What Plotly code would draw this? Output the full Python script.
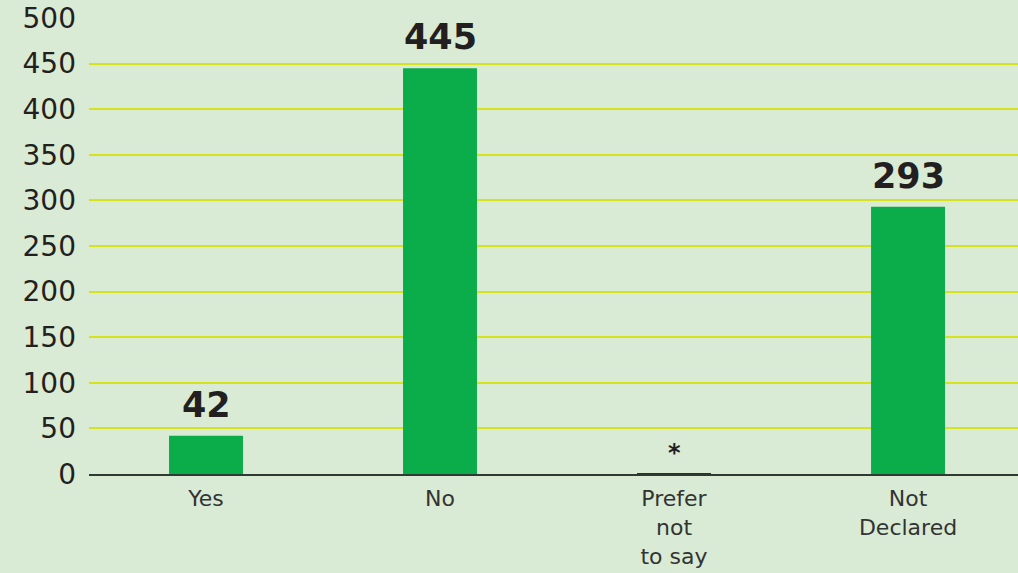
import plotly.graph_objects as go

categories = ["Yes", "No", "Prefer<br>not<br>to say", "Not<br>Declared"]
values = [42, 445, 1, 293]
value_labels = ["42", "445", "*", "293"]
y_ticks = [0, 50, 100, 150, 200, 250, 300, 350, 400, 450, 500]

BG = "#d9ebd5"
GRID = "#d6e21e"
BAR = "#0aad4a"
TXT = "#231f20"
FONT = "DejaVu Sans"

fig = go.Figure()
fig.add_trace(go.Bar(
    x=categories, y=values, width=0.316,
    marker=dict(color=[BAR, BAR, "#1d3a26", BAR], line=dict(width=0)),
    hoverinfo="skip",
))

for c, v, t in zip(categories, values, value_labels):
    fig.add_annotation(
        x=c, y=v, text=t, showarrow=False, yanchor="bottom",
        yshift=9 if t != "*" else 4,
        font=dict(family=FONT, size=35 if t != "*" else 24, color=TXT, weight="bold"),
    )

fig.update_layout(
    width=1018, height=573,
    margin=dict(l=89, r=0, t=18, b=99),
    paper_bgcolor=BG, plot_bgcolor=BG,
    showlegend=False,
    font=dict(family=FONT, color=TXT),
)
fig.update_xaxes(
    type="category", range=[-0.5, 3.47],
    showgrid=False, showline=True, linecolor="#2f3a33", linewidth=2,
    ticks="", tickfont=dict(family=FONT, size=22, color="#333333"),
    ticklabelstandoff=4,
)
fig.update_yaxes(
    range=[0, 500], tickvals=y_ticks,
    showgrid=True, gridcolor=GRID, gridwidth=2,
    zeroline=False, showline=False, ticks="",
    tickfont=dict(family=FONT, size=28, color=TXT),
    ticklabelstandoff=12,
)

fig.write_html(
    "out.html",
    config={"displayModeBar": False},
    post_script="document.body.style.margin='0';document.body.style.padding='0';",
)
